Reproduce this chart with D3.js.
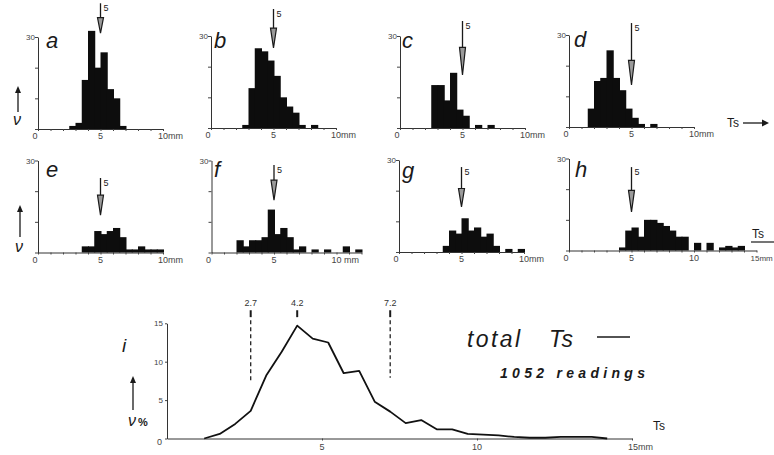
<!DOCTYPE html>
<html>
<head>
<meta charset="utf-8">
<script src="https://cdn.jsdelivr.net/npm/d3@7"></script>
<style>
  body { margin: 0; background: #fff; }
  svg { display: block; font-family: "Liberation Sans", Arial, sans-serif; }
  .tick text { display: none; }
</style>
</head>
<body>
<div class="content"></div>
<script>
// histogram panels a-h : counts per 0.5 mm bin
const panelLetters = ['a', 'b', 'c', 'd', 'e', 'f', 'g', 'h'];
const binStarts = [2.5, 2.5, 2.5, 1.5, 3.5, 2.0, 3.5, 4.0];
const countsA = [1, 2, 16, 32, 20, 25, 13, 10, 1];
const countsB = [1, 13, 26, 25, 22, 17, 10, 7, 5, 1, 0, 1];
const countsC = [14, 14, 9, 18, 6, 4, 0, 1, 0, 1];
const countsD = [6, 15, 16, 25, 16, 12, 6, 3, 1, 0, 1];
const countsE = [2, 2, 7, 6, 7, 8, 5, 1, 1, 2, 1, 1, 1];
const countsF = [4, 2, 4, 4, 5, 14, 6, 8, 5, 1, 2, 0, 1, 0, 1, 0, 0, 2, 0, 1];
const countsG = [2, 7, 6, 11, 7, 8, 5, 6, 2, 0, 1, 0, 1];
const countsH = [1, 6.5, 7.5, 4.5, 10, 10, 9, 8, 6.5, 4.5, 4.5, 0, 2.5, 0, 2.5, 0, 1, 1.5, 1, 1.5];
const xMaxes = [10, 10, 10, 10, 10, 12, 10, 15];
const xEndLabels = ['10mm', '10mm', '10mm', '10mm', '10mm', '10 mm', '10mm', '15mm'];
// the "5" arrow above each histogram (top, tip, head length in count units)
const arrowTops = [41, 38.8, 34.9, 33.9, 24.3, 28.5, 27.7, 27.2];
const arrowTips = [31.3, 26.1, 17.3, 13.7, 12.2, 17.1, 14.7, 12.6];
const arrowHeads = [5, 6.5, 9, 8, 6.5, 6.5, 6, 7];

// panel i : total Ts, percent
const totalTs = [1.2, 1.7, 2.2, 2.7, 3.2, 3.7, 4.2, 4.7, 5.2, 5.7, 6.2, 6.7, 7.2, 7.7, 8.2, 8.7, 9.2, 9.7, 10.2, 10.7, 11.2, 11.7, 12.2, 12.7, 13.2, 13.7, 14.2];
const totalPct = [0, 0.6, 1.9, 3.6, 8.2, 11.3, 14.7, 13.0, 12.5, 8.5, 8.8, 4.8, 3.5, 2.0, 2.4, 1.2, 1.2, 0.6, 0.5, 0.4, 0.2, 0.1, 0.1, 0.2, 0.2, 0.2, 0];
const markerTs = [2.7, 4.2, 7.2];
const markerDashEnd = [7.4, null, 7.9];
const pctTicks = [0, 5, 10, 15];

const allCounts = [countsA, countsB, countsC, countsD, countsE, countsF, countsG, countsH];

const W = 774, H = 455;
const INK = '#1a1a1a';
const svg = d3.select('body > div.content').append('svg')
  .attr('width', W).attr('height', H)
  .style('background', '#fff');

const originX = [38, 211, 400, 569, 38, 211.5, 399, 569];
const originY = [129, 128, 128, 127, 252.5, 252.5, 252, 250.5];
const letterPos = [[46, 48], [214, 48], [402, 48], [574, 47], [46, 177], [214, 177], [402, 178], [575, 177]];

function smallText(g, x, y, txt, anchor, size) {
  return g.append('text')
    .attr('x', x).attr('y', y)
    .attr('text-anchor', anchor || 'start')
    .attr('font-size', size || 9)
    .attr('fill', '#444')
    .text(txt);
}

function drawArrow(g, x, yTop, yTip, headLen, w) {
  g.append('line')
    .attr('x1', x).attr('x2', x)
    .attr('y1', yTop).attr('y2', yTip - headLen)
    .attr('stroke', INK).attr('stroke-width', 1.3);
  g.append('path')
    .attr('d', `M${x - w},${yTip - headLen} L${x + w},${yTip - headLen} L${x},${yTip} Z`)
    .attr('fill', '#9a9a9a').attr('stroke', INK).attr('stroke-width', 1.2);
}

function drawHistogram(i) {
  const counts = allCounts[i];
  const x0 = originX[i], y0 = originY[i];
  const g = svg.append('g').attr('class', 'panel-' + panelLetters[i]);

  const x = d3.scaleLinear().domain([0, xMaxes[i]]).range([x0, x0 + xMaxes[i] * 12.5]);
  const y = d3.scaleLinear().domain([0, 30]).range([y0, y0 - 92]);

  const bins = counts.map((c, k) => ({ start: binStarts[i] + k * 0.5, value: c }))
    .filter(d => d.value > 0);

  g.selectAll('rect.bar')
    .data(bins)
    .enter()
    .append('rect')
    .attr('class', 'bar')
    .attr('x', d => x(d.start))
    .attr('width', d => x(d.start + 0.5) - x(d.start) + 1)
    .attr('y', d => y(d.value))
    .attr('height', d => y(0) - y(d.value))
    .attr('fill', '#0d0d0d');

  const xAxis = g.append('g')
    .attr('transform', `translate(0,${y0})`)
    .call(d3.axisBottom(x).tickValues(d3.range(0, xMaxes[i] + 1)).tickSize(2).tickSizeOuter(0));
  const yAxis = g.append('g')
    .attr('transform', `translate(${x0},0)`)
    .call(d3.axisLeft(y).tickValues([0, 10, 20, 30]).tickSize(3).tickSizeOuter(0));
  [xAxis, yAxis].forEach(a => {
    a.select('.domain').attr('stroke', '#333').attr('stroke-width', 1);
    a.selectAll('.tick line').attr('stroke', '#444');
  });

  smallText(g, x0 - 3, y0 + 10, '0', 'middle');
  smallText(g, x0 - 3, y(30) + 3, '30', 'end', 8);
  smallText(g, x(5), y0 + 10, '5', 'middle');
  if (xEndLabels[i] === '15mm') {
    smallText(g, x(10), y0 + 10, '10', 'middle');
    smallText(g, x(15) - 6, y0 + 10, '15mm', 'start', 8);
  } else {
    smallText(g, x(10) - 5, y0 + 10, xEndLabels[i]);
  }

  drawArrow(g, x(5), y(arrowTops[i]), y(arrowTips[i]), y(0) - y(arrowHeads[i]), 3);
  smallText(g, x(5) + 3, y(arrowTops[i]) + 8, '5', 'start', 9).attr('fill', INK);

  g.append('text')
    .attr('x', letterPos[i][0]).attr('y', letterPos[i][1])
    .attr('font-size', 22).attr('font-style', 'italic')
    .attr('fill', INK)
    .text(panelLetters[i]);
}

d3.range(8).forEach(drawHistogram);

// nu with up arrow for each row
function nuLabel(xc, yArrowTop, yArrowBottom, yNu, extra) {
  svg.append('line')
    .attr('x1', xc).attr('x2', xc)
    .attr('y1', yArrowTop + 6).attr('y2', yArrowBottom)
    .attr('stroke', INK).attr('stroke-width', 1.3);
  svg.append('path')
    .attr('d', `M${xc - 3},${yArrowTop + 7} L${xc + 3},${yArrowTop + 7} L${xc},${yArrowTop} Z`)
    .attr('fill', INK);
  svg.append('text')
    .attr('x', xc - 5).attr('y', yNu)
    .attr('font-size', 16).attr('font-style', 'italic')
    .attr('fill', INK)
    .text('ν');
  if (extra) {
    svg.append('text')
      .attr('x', xc + 5).attr('y', yNu)
      .attr('font-size', 11).attr('font-weight', 'bold')
      .attr('fill', INK)
      .text(extra);
  }
}
nuLabel(18, 86, 112, 125);
nuLabel(20, 205, 237, 252);
nuLabel(133, 376, 410, 426, '%');

// "Ts ->" label in the top row
svg.append('text').attr('x', 727).attr('y', 127).attr('font-size', 12).attr('fill', INK).text('Ts');
svg.append('line').attr('x1', 743).attr('x2', 763).attr('y1', 123).attr('y2', 123)
  .attr('stroke', INK).attr('stroke-width', 1.3);
svg.append('path').attr('d', 'M762,119.5 L769,123 L762,126.5 Z').attr('fill', INK);

// "Ts" with underline in panel h
svg.append('text').attr('x', 752).attr('y', 238).attr('font-size', 12).attr('fill', INK).text('Ts');
svg.append('line').attr('x1', 751).attr('x2', 774).attr('y1', 242).attr('y2', 242)
  .attr('stroke', INK).attr('stroke-width', 1.2);

// panel i
(function drawTotal() {
  const g = svg.append('g').attr('class', 'panel-i');
  const x = d3.scaleLinear().domain([0, 15]).range([167, 632]);
  const y = d3.scaleLinear().domain([0, 15]).range([438.5, 323.3]);

  const xAxis = g.append('g')
    .attr('transform', `translate(0,${y(0)})`)
    .call(d3.axisBottom(x).tickValues([5, 10, 15]).tickSize(2).tickSizeOuter(0));
  const yAxis = g.append('g')
    .attr('transform', `translate(${x(0)},0)`)
    .call(d3.axisLeft(y).tickValues(pctTicks).tickSize(2).tickSizeOuter(0));
  [xAxis, yAxis].forEach(a => {
    a.select('.domain').attr('stroke', '#333').attr('stroke-width', 1);
    a.selectAll('.tick line').attr('stroke', '#444');
  });

  pctTicks.forEach(t => {
    if (t === 0) smallText(g, x(0) - 5, y(0) + 6, '0', 'end');
    else smallText(g, x(0) - 4, y(t) + 3, String(t), 'end', 8);
  });
  smallText(g, x(5), y(0) + 11, '5', 'middle');
  smallText(g, x(10), y(0) + 11, '10', 'middle');
  smallText(g, x(15) - 4, y(0) + 11, '15mm');

  const line = d3.line()
    .x((d, k) => x(totalTs[k]))
    .y(d => y(d));
  g.append('path')
    .datum(totalPct)
    .attr('d', line)
    .attr('fill', 'none')
    .attr('stroke', '#111')
    .attr('stroke-width', 1.8)
    .attr('stroke-linejoin', 'round');

  markerTs.forEach((m, k) => {
    smallText(g, x(m), y(17.2), String(m), 'middle', 9).attr('fill', '#333');
    g.append('line')
      .attr('x1', x(m)).attr('x2', x(m))
      .attr('y1', y(16.7)).attr('y2', y(15.8))
      .attr('stroke', INK).attr('stroke-width', 2);
    if (markerDashEnd[k] !== null) {
      g.append('line')
        .attr('x1', x(m)).attr('x2', x(m))
        .attr('y1', y(15.4)).attr('y2', y(markerDashEnd[k]))
        .attr('stroke', '#222').attr('stroke-width', 1.3)
        .attr('stroke-dasharray', '4,3');
    }
  });

  g.append('text').attr('x', 122).attr('y', 352)
    .attr('font-size', 19).attr('font-style', 'italic').attr('fill', INK).text('i');

  g.append('text').attr('x', 467).attr('y', 347)
    .attr('font-size', 23).attr('font-style', 'italic').attr('fill', INK)
    .attr('textLength', 53).attr('lengthAdjust', 'spacing').text('total');
  g.append('text').attr('x', 549).attr('y', 347)
    .attr('font-size', 23).attr('font-style', 'italic').attr('fill', INK)
    .attr('textLength', 24).attr('lengthAdjust', 'spacing').text('Ts');
  g.append('line').attr('x1', 597).attr('x2', 630).attr('y1', 337).attr('y2', 337)
    .attr('stroke', INK).attr('stroke-width', 1.6);
  g.append('text').attr('x', 500).attr('y', 378)
    .attr('font-size', 14).attr('font-style', 'italic').attr('font-weight', 'bold').attr('fill', INK)
    .attr('textLength', 145).attr('lengthAdjust', 'spacing').text('1052  readings');

  g.append('text').attr('x', 653).attr('y', 430)
    .attr('font-size', 12).attr('fill', INK).text('Ts');
})();
</script>
</body>
</html>
